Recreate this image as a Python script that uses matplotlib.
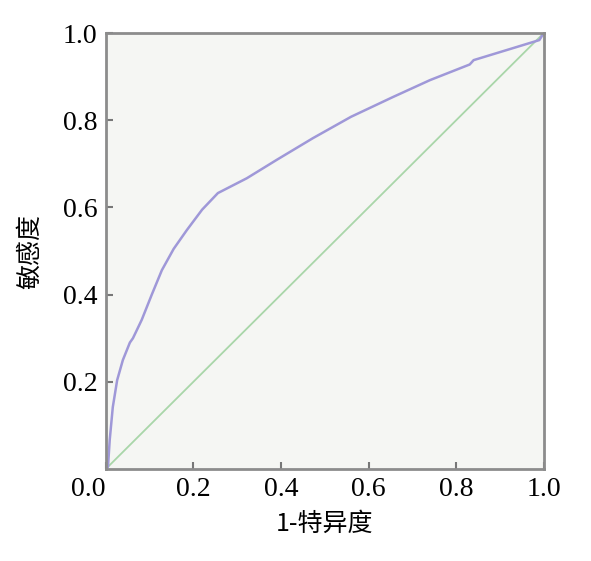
import matplotlib.pyplot as plt

# ROC curve
fpr = [0.0, 0.005, 0.009, 0.016, 0.026, 0.039, 0.055, 0.062, 0.082, 0.105, 0.128,
       0.155, 0.185, 0.22, 0.256, 0.322, 0.39, 0.473, 0.56, 0.655, 0.74, 0.831,
       0.84, 0.938, 0.99, 1.0]
tpr = [0.0, 0.005, 0.067, 0.142, 0.204, 0.25, 0.29, 0.30, 0.342, 0.40, 0.456,
       0.505, 0.548, 0.595, 0.633, 0.667, 0.709, 0.759, 0.808, 0.853, 0.892, 0.928,
       0.938, 0.968, 0.984, 1.0]
ref_line = [0.0, 1.0]

xticks = [0.0, 0.2, 0.4, 0.6, 0.8, 1.0]
yticks = [0.2, 0.4, 0.6, 0.8, 1.0]
xlabel = "1-特异度"
ylabel = "敏感度"

cjk = ['Noto Sans CJK SC', 'DejaVu Sans']

fig = plt.figure(figsize=(5.91, 5.61), dpi=100)
ax = fig.add_axes([0.179, 0.164, 0.741, 0.777])
ax.set_facecolor('#f5f6f3')

ax.plot(ref_line, ref_line, color='#a9d6a9', lw=1.3)
ax.plot(fpr, tpr, color='#9f98d8', lw=1.8)

ax.set_xlim(0, 1)
ax.set_ylim(0, 1)
ax.set_xticks(xticks)
ax.set_yticks(yticks)
ax.set_xticklabels([f"{v:.1f}" for v in xticks], family='Liberation Serif', fontsize=20)
ax.set_yticklabels([f"{v:.1f}" for v in yticks], family='Liberation Serif', fontsize=20)
ax.get_xticklabels()[0].set_ha('right')

ax.tick_params(direction='in', length=5, width=1.5, color='#777777', pad=6)
for s in ax.spines.values():
    s.set_color('#8c8c8c')
    s.set_linewidth(2)

ax.set_xlabel(xlabel, family=cjk, fontsize=18, labelpad=6)
ax.set_ylabel(ylabel, family=cjk, fontsize=18, labelpad=14)

fig.savefig('out.png', dpi=100, facecolor='white')
